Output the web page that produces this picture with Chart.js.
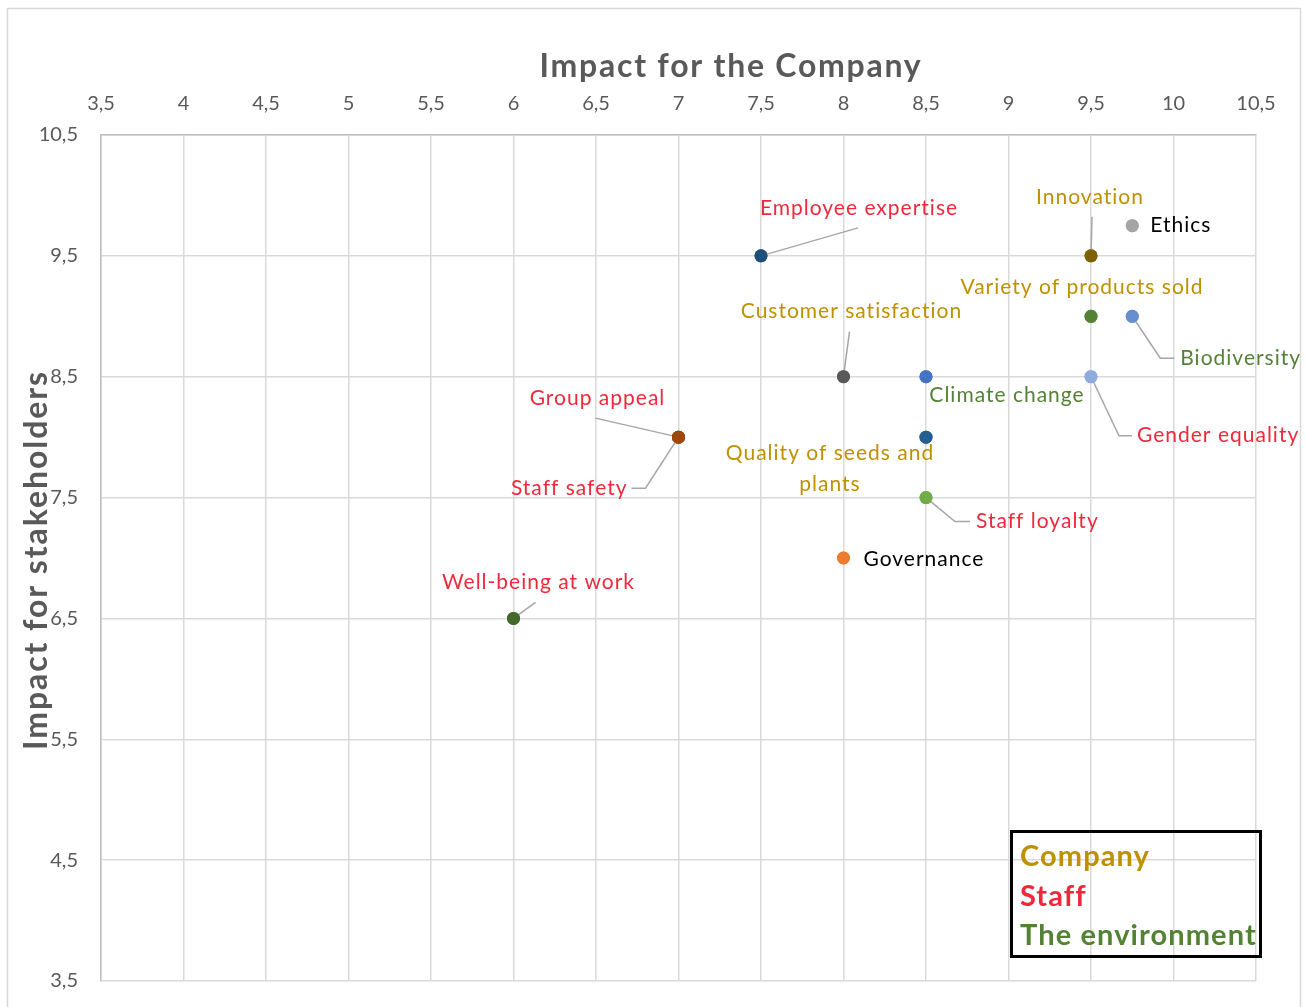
<!DOCTYPE html>
<html>
<head>
<meta charset="utf-8">
<script src="https://cdn.jsdelivr.net/npm/chart.js@4/dist/chart.umd.min.js"></script>
<style>
  html, body { margin: 0; padding: 0; background: #fff; }
  #wrap { width: 1306px; height: 1007px; position: relative; }
</style>
</head>
<body>
<div id="wrap"><canvas id="c" width="1306" height="1007"></canvas></div>
<script>
// ---------- DATA ----------
const names = [
  'Employee expertise', 'Innovation', 'Ethics', 'Variety of products sold',
  'Biodiversity', 'Customer satisfaction', 'Climate change', 'Gender equality',
  'Group appeal', 'Staff safety', 'Quality of seeds and plants', 'Staff loyalty',
  'Governance', 'Well-being at work'
];
const companyImpact = [7.5, 9.5, 9.75, 9.5, 9.75, 8, 8.5, 9.5, 7, 7, 8.5, 8.5, 8, 6];
const stakeholderImpact = [9.5, 9.5, 9.75, 9, 9, 8.5, 8.5, 8.5, 8, 8, 8, 7.5, 7, 6.5];
const groups = ['Staff', 'Company', 'None', 'Company', 'The environment', 'Company',
  'The environment', 'Staff', 'Staff', 'Staff', 'Company', 'Staff', 'None', 'Staff'];
const pointColors = ['#1F4E79', '#7F6000', '#A5A5A5', '#548235', '#698ED0', '#595959',
  '#4472C4', '#8FAADC', '#9E480E', '#9E480E', '#255E91', '#70AD47', '#ED7D31', '#43682B'];
const legendGroups = ['Company', 'Staff', 'The environment'];
const xTicks = [3.5, 4, 4.5, 5, 5.5, 6, 6.5, 7, 7.5, 8, 8.5, 9, 9.5, 10, 10.5];
const xTickLabels = ['3,5', '4', '4,5', '5', '5,5', '6', '6,5', '7', '7,5', '8', '8,5', '9', '9,5', '10', '10,5'];
const yTicks = [3.5, 4.5, 5.5, 6.5, 7.5, 8.5, 9.5, 10.5];
const yTickLabels = ['3,5', '4,5', '5,5', '6,5', '7,5', '8,5', '9,5', '10,5'];
const xTitle = 'Impact for the Company';
const yTitle = 'Impact for stakeholders';

// ---------- STYLE / LAYOUT ----------
const groupColors = { 'Company': '#BF9000', 'Staff': '#F0283C', 'The environment': '#548235', 'None': '#000000' };
const legendColors = { 'Company': '#BF9000', 'Staff': '#F0283C', 'The environment': '#548235' };
// label placement: offsets in px relative to the point, leader polyline relative to point
const labelLayout = [
  { dx: 98, dy: -48, align: 'center', leader: [[0,0],[97,-28]] },
  { dx: -1, dy: -59, align: 'center', leader: [[0,0],[1,-39]] },
  { dx: 18, dy: 0, align: 'left' },
  { dx: -9, dy: -29, align: 'center' },
  { dx: 48, dy: 42, align: 'left', leader: [[0,0],[28,42],[42,42]] },
  { dx: 8, dy: -65, align: 'center', leader: [[0,0],[6,-45]] },
  { dx: 81, dy: 19, align: 'center' },
  { dx: 46, dy: 59, align: 'left', leader: [[0,0],[28,59],[41,59]] },
  { dx: -81, dy: -39, align: 'center', leader: [[0,0],[-83,-19]] },
  { dx: -51, dy: 51, align: 'right', leader: [[0,0],[-33,51],[-47,51]] },
  { dx: -96, dy: 16, align: 'center', lines: ['Quality of seeds and', 'plants'], lineGap: 31 },
  { dx: 50, dy: 24, align: 'left', leader: [[0,0],[29,24],[44,24]] },
  { dx: 20, dy: 1, align: 'left' },
  { dx: 25, dy: -36, align: 'center', leader: [[0,0],[22,-16]] }
];
const FONT = 'Lato, "Open Sans", sans-serif';

function fitText(ctx, text, x, y, font, targetWidth) {
  ctx.font = font;
  ctx.letterSpacing = '0px';
  const w = ctx.measureText(text).width;
  const sp = (targetWidth - w) / text.length;
  ctx.letterSpacing = sp.toFixed(2) + 'px';
  ctx.fillText(text, x, y);
  ctx.letterSpacing = '0px';
}

const decorations = {
  id: 'decorations',
  beforeDraw(chart) {
    const ctx = chart.ctx;
    ctx.save();
    ctx.fillStyle = '#ffffff';
    ctx.fillRect(0, 0, chart.width, chart.height);
    ctx.strokeStyle = '#D9D9D9';
    ctx.lineWidth = 1.5;
    ctx.strokeRect(7.5, 8.5, 1293, 1010);
    ctx.restore();
  },
  afterDatasetsDraw(chart) {
    const ctx = chart.ctx;
    const meta = chart.getDatasetMeta(0);
    ctx.save();
    ctx.strokeStyle = '#A6A6A6';
    ctx.lineWidth = 1.5;
    labelLayout.forEach((L, i) => {
      if (!L.leader) return;
      const p = meta.data[i];
      ctx.beginPath();
      L.leader.forEach((q, k) => {
        const x = p.x + q[0], y = p.y + q[1];
        if (k === 0) ctx.moveTo(x, y); else ctx.lineTo(x, y);
      });
      ctx.stroke();
    });
    meta.data.forEach((el) => el.draw(ctx, chart.chartArea));
    ctx.font = '21px ' + FONT;
    ctx.letterSpacing = '1px';
    ctx.textBaseline = 'middle';
    labelLayout.forEach((L, i) => {
      const p = meta.data[i];
      ctx.fillStyle = groupColors[groups[i]];
      ctx.textAlign = L.align;
      const lines = L.lines || [names[i]];
      lines.forEach((t, k) => {
        ctx.fillText(t, p.x + L.dx, p.y + L.dy + k * (L.lineGap || 0));
      });
    });
    ctx.letterSpacing = '0px';
    ctx.restore();
  },
  afterDraw(chart) {
    const ctx = chart.ctx;
    ctx.save();
    ctx.fillStyle = '#595959';
    ctx.textAlign = 'center';
    ctx.textBaseline = 'middle';
    fitText(ctx, xTitle, 731, 67, 'bold 32px ' + FONT, 383);
    ctx.translate(37, 560);
    ctx.rotate(-Math.PI / 2);
    fitText(ctx, yTitle, 0, 0, 'bold 32px ' + FONT, 380);
    ctx.restore();
    ctx.save();
    ctx.strokeStyle = '#000000';
    ctx.lineWidth = 3;
    ctx.strokeRect(1011.5, 831.5, 249, 125);
    ctx.textAlign = 'left';
    ctx.textBaseline = 'middle';
    legendGroups.forEach((g, k) => {
      ctx.fillStyle = legendColors[g];
      ctx.font = 'bold 29px ' + FONT;
      ctx.letterSpacing = '1.1px';
      ctx.fillText(g, 1020, 857 + k * 39.5);
    });
    ctx.restore();
  }
};

new Chart(document.getElementById('c'), {
  type: 'scatter',
  data: {
    datasets: [{
      data: names.map((n, i) => ({ x: companyImpact[i], y: stakeholderImpact[i] })),
      backgroundColor: pointColors,
      borderColor: pointColors,
      pointRadius: 6.5,
      pointHoverRadius: 6.5,
      borderWidth: 0
    }]
  },
  options: {
    responsive: false,
    animation: false,
    events: [],
    layout: { padding: { left: 0, top: 0, right: 50, bottom: 26 } },
    plugins: { legend: { display: false }, tooltip: { enabled: false } },
    scales: {
      x: {
        type: 'linear', position: 'top', min: 3.5, max: 10.5,
        afterBuildTicks: (s) => { s.ticks = xTicks.map(v => ({ value: v })); },
        afterFit: (s) => { s.height = 135; s.paddingLeft = 0; s.paddingRight = 0; },
        ticks: {
          padding: 19, color: '#595959', font: { family: FONT, size: 20 },
          maxRotation: 0, autoSkip: false,
          callback: (v) => xTickLabels[xTicks.indexOf(v)]
        },
        grid: { color: '#D9D9D9', lineWidth: 1.5, drawTicks: false },
        border: { color: '#BFBFBF', width: 1.5 }
      },
      y: {
        type: 'linear', min: 3.5, max: 10.5,
        afterBuildTicks: (s) => { s.ticks = yTicks.map(v => ({ value: v })); },
        afterFit: (s) => { s.width = 101; s.paddingTop = 0; s.paddingBottom = 0; },
        ticks: {
          padding: 23, color: '#595959', font: { family: FONT, size: 20 },
          autoSkip: false,
          callback: (v) => yTickLabels[yTicks.indexOf(v)]
        },
        grid: { color: '#D9D9D9', lineWidth: 1.5, drawTicks: false },
        border: { color: '#BFBFBF', width: 1.5 }
      }
    }
  },
  plugins: [decorations]
});
</script>
</body>
</html>
